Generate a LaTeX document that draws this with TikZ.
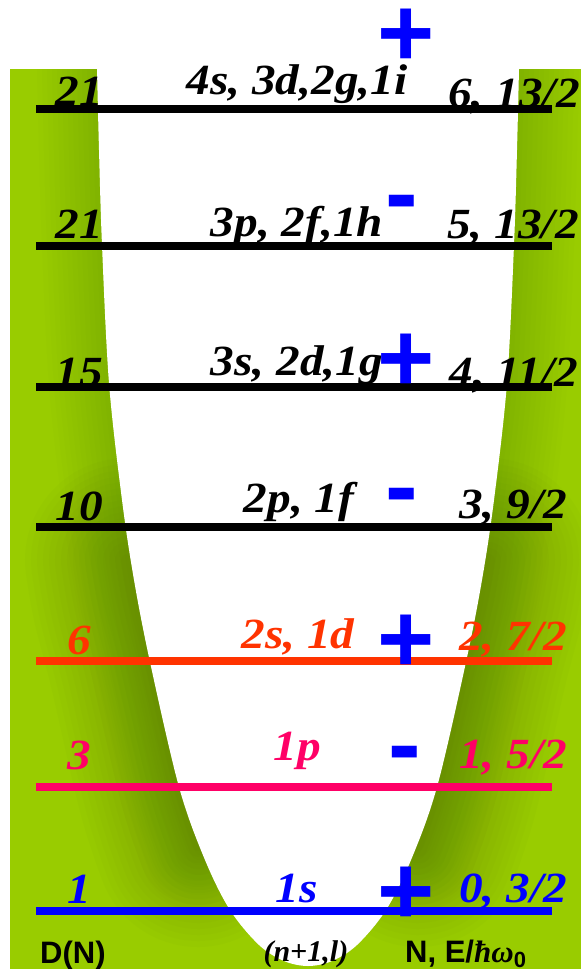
\documentclass[tikz,border=0pt]{standalone}
\usepackage{fontspec}
\setmainfont{Liberation Serif}
\setsansfont{Liberation Sans}
\newfontfamily\lblfont[FakeStretch=1.1]{Liberation Serif}
\definecolor{gmain}{HTML}{99CC00}
\definecolor{gdark}{HTML}{4F6A00}
\definecolor{lvred}{HTML}{FF3300}
\definecolor{lvpink}{HTML}{FF0066}
\definecolor{lvblue}{HTML}{0000FF}
\tikzset{
  level/.style={line width=8pt},
  rimshade/.style={gdark, opacity=0.018, line cap=round, line join=round},
  flankshade/.style={gdark, opacity=0.028, line cap=round, line join=round},
  lbl/.style={font=\lblfont\bfseries\itshape\fontsize{43}{43}\selectfont, inner sep=0pt, anchor=base},
  sgn/.style={font=\sffamily\bfseries\fontsize{98}{98}\selectfont, text=lvblue, inner sep=0pt, anchor=base},
  foot/.style={font=\sffamily\bfseries\fontsize{31}{31}\selectfont, inner sep=0pt, anchor=base west},
}
\begin{document}
\begin{tikzpicture}[x=1pt, y=-1pt]
\useasboundingbox (0,0) rectangle (581,969);
% green background
\fill[gmain] (10,69) rectangle (581,969);
\begin{scope}
  \clip (10,69) rectangle (581,969);
  % soft shadow along the whole rim
  \foreach \w in {10,20,...,120}{
    \draw[rimshade, line width=\w pt] plot[smooth, tension=0.55] coordinates {
      (97,30) (97,69) (99,150) (102,245) (109,383) (122,500) (134,580) (150,662) (179,787) (200,850)};
    \draw[rimshade, line width=\w pt] plot[smooth, tension=0.55] coordinates {
      (519,30) (519,69) (517,150) (514,245) (507,383) (494,500) (482,580) (466,662) (437,787) (416,850)};
  }
  % stronger shadow on the lower flanks
  \foreach \w in {12,24,...,204}{
    \draw[flankshade, line width=\w pt] plot[smooth, tension=0.55] coordinates {
      (127,560) (134,600) (150,662) (179,787) (198,845)};
    \draw[flankshade, line width=\w pt] plot[smooth, tension=0.55] coordinates {
      (489,560) (482,600) (466,662) (437,787) (418,845)};
  }
\end{scope}
% white well
\fill[white] plot[smooth, tension=0.55] coordinates {
  (97,69) (99,150) (102,245) (109,383) (122,500) (134,580) (150,662)
  (179,787) (205,860) (230,910) (259,945) (284,961) (308,966)
  (332,961) (357,945) (386,910) (411,860) (437,787) (466,662)
  (482,580) (494,500) (507,383) (514,245) (517,150) (519,69)} -- cycle;
% level lines
\foreach \n/\y/\c in {6/109/black, 5/246/black, 4/387/black, 3/527/black, 2/661/lvred, 1/787/lvpink, 0/911/lvblue}{
  \coordinate (L\n) at (36,\y);
  \coordinate (R\n) at (552,\y);
  \draw[level, \c] (L\n) -- (R\n);
}
% row 6
\node[lbl] (d6) at (79,105) {21};
\node[lbl] (o6) at (297,94) {4s, 3d,2g,1i};
\node[lbl] (e6) at (514,107) {6, 13/2};
% row 5
\node[lbl] (d5) at (79,238) {21};
\node[lbl] (o5) at (297,236) {3p, 2f,1h};
\node[lbl] (e5) at (513,238) {5, 13/2};
% row 4
\node[lbl] (d4) at (79,386) {15};
\node[lbl] (o4) at (297,375) {3s, 2d,1g};
\node[lbl] (e4) at (514,386) {4, 11/2};
% row 3
\node[lbl] (d3) at (79,520) {10};
\node[lbl] (o3) at (299,512) {2p, 1f};
\node[lbl] (e3) at (513,518) {3, 9/2};
% row 2
\node[lbl, text=lvred] (d2) at (79,654) {6};
\node[lbl, text=lvred] (o2) at (298,648) {2s, 1d};
\node[lbl, text=lvred] (e2) at (513,650) {2, 7/2};
% row 1
\node[lbl, text=lvpink] (d1) at (79,769) {3};
\node[lbl, text=lvpink] (o1) at (297,760) {1p};
\node[lbl, text=lvpink] (e1) at (513,768) {1, 5/2};
% row 0
\node[lbl, text=lvblue] (d0) at (79,903) {1};
\node[lbl, text=lvblue] (o0) at (297,902) {1s};
\node[lbl, text=lvblue] (e0) at (513,902) {0, 3/2};
% parity signs
\node[sgn] (p6) at (406,66) {+};
\node[sgn] (p5) at (402,226) {-};
\node[sgn] (p4) at (406,391) {+};
\node[sgn] (p3) at (402,519) {-};
\node[sgn] (p2) at (406,672) {+};
\node[sgn] (p1) at (405,777) {-};
\node[sgn] (p0) at (406,924) {+};
% footer
\node[foot] (fd) at (40,963) {D(N)};
\node[inner sep=0pt, anchor=base, font=\bfseries\itshape\fontsize{30}{30}\selectfont] (fn) at (306,961) {(n\textup{+}1,l)};
\node[foot] (fe) at (405,962) {N, E/{\rmfamily\itshape ħω}\raisebox{-5pt}{\fontsize{22}{22}\selectfont 0}};
\end{tikzpicture}
\end{document}
